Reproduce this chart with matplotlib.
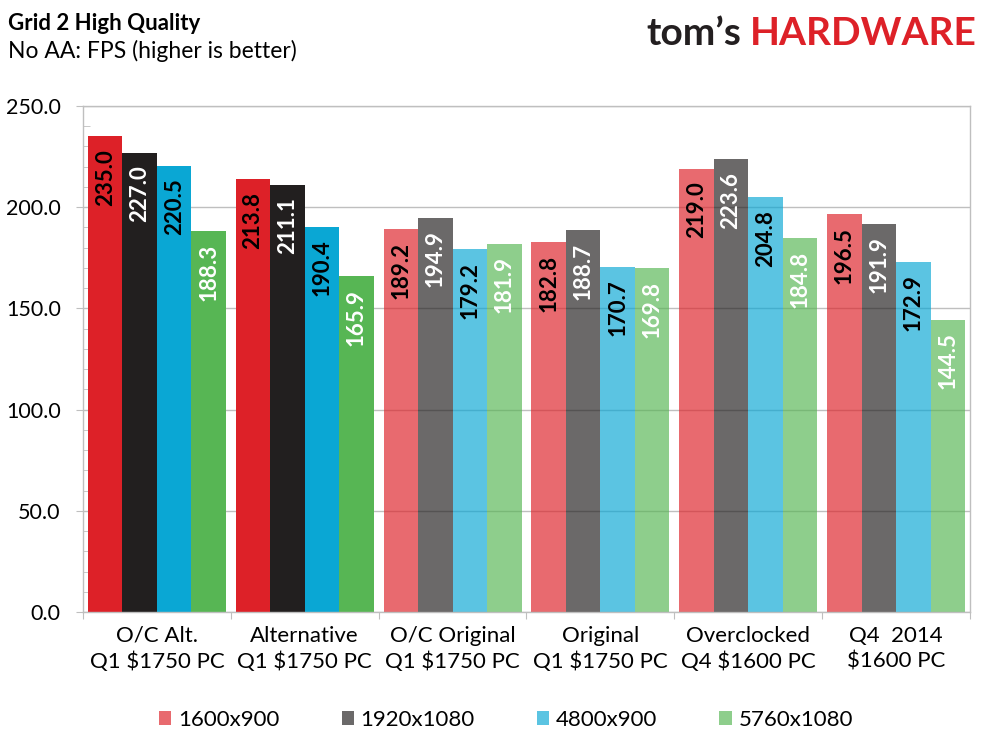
import matplotlib
matplotlib.use("Agg")
import matplotlib.pyplot as plt
from matplotlib.colors import to_rgba
from matplotlib.patches import Patch
import numpy as np

plt.rcParams['font.family'] = ['Lato', 'DejaVu Sans']

# data
systems = ["O/C Alt.\nQ1 $1750 PC", "Alternative\nQ1 $1750 PC", "O/C Original\nQ1 $1750 PC",
           "Original\nQ1 $1750 PC", "Overclocked\nQ4 $1600 PC", "Q4  2014\n$1600 PC"]
resolutions = ["1600x900", "1920x1080", "4800x900", "5760x1080"]
fps_1600x900 = [235.0, 213.8, 189.2, 182.8, 219.0, 196.5]
fps_1920x1080 = [227.0, 211.1, 194.9, 188.7, 223.6, 191.9]
fps_4800x900 = [220.5, 190.4, 179.2, 170.7, 204.8, 172.9]
fps_5760x1080 = [188.3, 165.9, 181.9, 169.8, 184.8, 144.5]
series = [fps_1600x900, fps_1920x1080, fps_4800x900, fps_5760x1080]

# style
base_colors = ["#DD2128", "#221F1F", "#0AA7D4", "#57B654"]
label_colors = ["black", "white", "black", "white"]
group_alpha = [1.0, 1.0, 0.67, 0.67, 0.67, 0.67]
grey = "#BFBFBF"

fig = plt.figure(figsize=(9.89, 7.42), dpi=100)
ax = fig.add_axes([83 / 989, 1 - 612 / 742, (970 - 83) / 989, (612 - 106) / 742])

x = np.arange(len(systems))
w = 0.2334
for i, vals in enumerate(series):
    cols = [to_rgba(base_colors[i], a) for a in group_alpha]
    xs = x + (i - 1.5) * w
    ax.bar(xs, vals, width=w, color=cols, linewidth=0, zorder=2)
    for xi, v in zip(xs, vals):
        ax.annotate(f"{v:.1f}", (xi, v), xytext=(0, -9), textcoords="offset points",
                    rotation=90, ha="center", va="top", fontsize=16, fontweight="bold",
                    color=label_colors[i], zorder=3)

ax.set_xlim(-0.5, len(systems) - 0.5)
ax.set_ylim(0, 250)
ax.set_axisbelow(True)
ax.yaxis.grid(True, color=grey, linewidth=1)
ax.set_yticks(np.arange(0, 251, 50))
ax.set_yticks(np.arange(0, 251, 10), minor=True)
ax.set_yticklabels([f"{v:.1f}" for v in np.arange(0, 251, 50)])
ax.tick_params(axis="y", which="major", direction="out", length=5, color=grey,
               labelsize=15.5, pad=11)
ax.tick_params(axis="y", which="minor", direction="in", length=5, color=grey)

ax.set_xticks(np.arange(-0.5, len(systems)))
ax.set_xticklabels([])
ax.set_xticks(x, minor=True)
ax.set_xticklabels(systems, minor=True, fontsize=16, linespacing=1.35)
ax.tick_params(axis="x", which="major", direction="out", length=5, color=grey)
ax.tick_params(axis="x", which="minor", length=0, pad=10)

for s in ax.spines.values():
    s.set_color(grey)
    s.set_linewidth(1)

handles = [Patch(facecolor=to_rgba(c, 0.67), edgecolor="none") for c in base_colors]
fig.legend(handles, resolutions, loc="center", bbox_to_anchor=(506 / 989, 1 - 720 / 742),
           ncol=4, frameon=False, fontsize=16, handlelength=0.55, handleheight=0.6,
           handletextpad=0.3, columnspacing=2.8)

fig.text(8 / 989, 1 - 30 / 742, "Grid 2 High Quality", fontsize=16, fontweight="bold",
         va="baseline")
fig.text(8 / 989, 1 - 58 / 742, "No AA: FPS (higher is better)", fontsize=16.5,
         va="baseline")

# logo
fig.text(741 / 989, 1 - 45 / 742, "tom\u2019s", fontsize=28, fontweight="bold",
         color="#231F20", ha="right", va="baseline")
fig.text(977 / 989, 1 - 45 / 742, "HARDWARE", fontsize=28, fontweight="bold",
         color="#DD2128", ha="right", va="baseline")

fig.savefig("out.png", dpi=100)
